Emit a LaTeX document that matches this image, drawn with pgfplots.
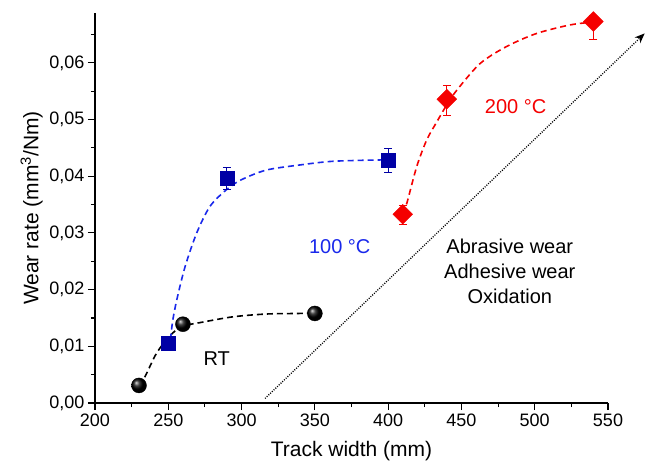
\documentclass[border=0pt]{standalone}
\usepackage{pgfplots}
\pgfplotsset{compat=1.18}
\usepackage{fontspec}
\setmainfont{Liberation Sans}
\usetikzlibrary{arrows.meta}

\definecolor{navy}{RGB}{0,0,165}
\definecolor{fitblue}{RGB}{25,40,235}
\definecolor{hotred}{RGB}{245,0,0}

\tikzset{fitdash/.style={line width=1.6bp, dash pattern=on 6bp off 4bp}}

\begin{document}
\begin{tikzpicture}
\useasboundingbox (-95bp,-61bp) rectangle (561bp,403bp);
\begin{axis}[
  at={(0,0)}, anchor=south west,
  scale only axis, width=513bp, height=390bp,
  xmin=200, xmax=550, ymin=0, ymax=0.0688,
  axis x line=bottom, axis y line=left,
  axis line style={-, line width=1.3bp},
  xtick={200,250,300,350,400,450,500,550},
  minor xtick={225,275,325,375,425,475,525},
  ytick={0,0.01,0.02,0.03,0.04,0.05,0.06},
  minor ytick={0.005,0.015,0.025,0.035,0.045,0.055,0.065},
  tick align=outside, major tick length=7bp, minor tick length=4bp,
  tick style={line width=1.1bp, black},
  scaled y ticks=false,
  yticklabel style={/pgf/number format/.cd, fixed, fixed zerofill, precision=2, use comma},
  /pgf/number format/assume math mode=true,
  ticklabel style={font=\fontsize{18bp}{21bp}\selectfont},
  label style={font=\fontsize{21bp}{25bp}\selectfont},
  xlabel={Track width (mm)},
  xlabel style={yshift=-8bp},
  ylabel={Wear rate (mm\textsuperscript{3}/Nm)},
  clip=false,
  error bars/error bar style={line width=0.9bp},
  error bars/error mark options={rotate=90, mark size=4bp, line width=0.9bp},
]

% wear-mechanism trend arrow
\addplot[black, dash pattern=on 1bp off 1.4bp, line width=1.3bp, -{Stealth[length=10bp,width=8bp]}]
  coordinates {(316,0.0008) (575,0.0652)};

% fitted trend curves
\addplot[black, fitdash, smooth, tension=0.5] coordinates {
  (230,0.0031) (234,0.0046) (242,0.0088) (250,0.0115) (256,0.0130)
  (262,0.0137) (272,0.0142) (294,0.0152) (317,0.0157) (340,0.0158) (350,0.0159)};
\addplot[fitblue, fitdash, smooth] coordinates {
  (251.5,0.0112) (253,0.0145) (255.8,0.0182) (261.4,0.0240) (269.4,0.0300)
  (278.5,0.0347) (290,0.0377) (300,0.0394) (317,0.0411) (340,0.0420)
  (360,0.0426) (380,0.0428) (400,0.0429)};
\addplot[hotred, fitdash, smooth] coordinates {
  (410,0.0334) (412.7,0.0352) (419.5,0.0417) (426.3,0.0464) (433,0.0495)
  (440,0.0526) (446.9,0.0552) (462.8,0.0599) (480.9,0.0629) (501.4,0.0652)
  (524.2,0.0667) (540,0.0672)};

% measured wear rates
\addplot[only marks, mark=ball, mark size=7.5bp, mark options={ball color=black}]
  coordinates {(230,0.0031) (260,0.0139) (350,0.0158)};

\addplot[only marks, mark=square*, mark size=6.8bp, navy,
  error bars/.cd, y dir=both, y explicit]
  coordinates {
    (250,0.0106) +- (0,0)
    (290,0.0397) += (0,0.0018) -= (0,0.0020)
    (400,0.0428) += (0,0.0021) -= (0,0.0022)};

\addplot[only marks, mark=square*, mark size=7bp, hotred,
  mark options={rotate=45},
  error bars/.cd, y dir=both, y explicit]
  coordinates {
    (410,0.0333) += (0,0.0015) -= (0,0.0018)
    (440,0.0536) += (0,0.0025) -= (0,0.0028)
    (540,0.0673) += (0,0.0010) -= (0,0.0032)};

% annotations
\node[font=\fontsize{20bp}{24bp}\selectfont, black] at (axis cs:283,0.0079) {RT};
\node[font=\fontsize{20bp}{24bp}\selectfont, fitblue] at (axis cs:367,0.0275) {100 °C};
\node[font=\fontsize{20bp}{24bp}\selectfont, hotred] at (axis cs:487,0.0523) {200 °C};
\node[font=\fontsize{20bp}{25bp}\selectfont, black, align=center] at (axis cs:483,0.0232)
  {Abrasive wear\\Adhesive wear\\Oxidation};
\end{axis}
\end{tikzpicture}
\end{document}
